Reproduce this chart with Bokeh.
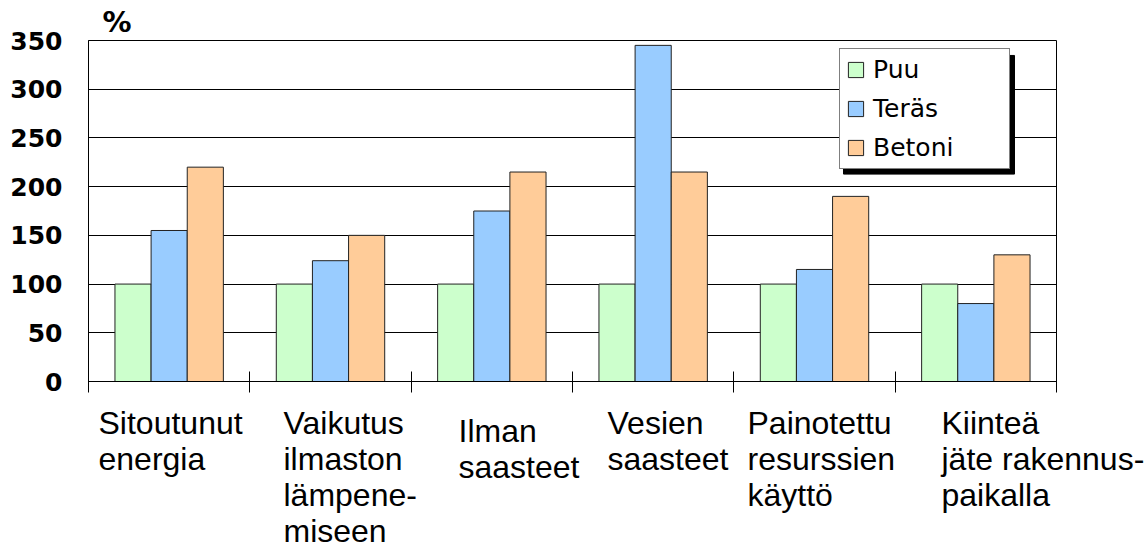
from bokeh.plotting import figure
from bokeh.layouts import column, row
from bokeh.models import (Range1d, FixedTicker, Legend, LegendItem, ColumnDataSource,
                          BoxAnnotation)
from bokeh.core.properties import value
from bokeh.embed import file_html
from bokeh.resources import INLINE

# ---------------- data ----------------
categories = [
    "Sitoutunut\nenergia",
    "Vaikutus\nilmaston\nlämpene-\nmiseen",
    "Ilman\nsaasteet",
    "Vesien\nsaasteet",
    "Painotettu\nresurssien\nkäyttö",
    "Kiinteä\njäte rakennus-\npaikalla",
]
series_names = ["Puu", "Teräs", "Betoni"]
puu = [100, 100, 100, 100, 100, 100]
teras = [155, 124, 175, 345, 115, 80]
betoni = [220, 150, 215, 215, 190, 130]
y_ticks = [0, 50, 100, 150, 200, 250, 300, 350]
y_unit_label = "%"

# ---------------- styles / layout ----------------
colors = ["#CCFFCC", "#99CCFF", "#FFCC99"]
bar_w = 0.224
W = 1147
left_px, right_px, top_px, zero_px = 88, 1056, 39, 381
main_h = 400
n = len(categories)
ymax = 350
px_per_x = (right_px - left_px) / n
px_per_y = (zero_px - top_px) / ymax
label_left_px = [98, 283, 458, 607, 747, 941]   # left edge of each label (page px)
label_tops = [4, 4, 12, 4, 4, 4]               # px below the top of the label strip
legend_box = (839, 1010, 50, 169)               # left, right, top, bottom (page px)
shadow = 4

p = figure(width=W, height=main_h, output_backend="svg", toolbar_location=None,
           x_range=Range1d(0, n), y_range=Range1d(0, ymax),
           min_border_left=left_px, min_border_right=W - right_px, min_border_top=top_px,
           min_border_bottom=main_h - zero_px)
p.background_fill_color = "white"
p.border_fill_color = "white"
p.outline_line_color = "black"
p.outline_line_width = 1

p.title.text = y_unit_label
p.title.align = "left"
p.title.offset = 14
p.title.standoff = 4
p.title.text_font = "DejaVu Sans"
p.title.text_font_style = "bold"
p.title.text_font_size = "29px"
p.title.text_color = "black"

renderers = []
for k, vals in enumerate([puu, teras, betoni]):
    src = ColumnDataSource(dict(x=[i + 0.5 + (k - 1) * bar_w for i in range(n)], top=vals))
    r = p.vbar(x="x", top="top", width=bar_w, bottom=0, source=src,
               fill_color=colors[k], line_color="#222222", line_width=1)
    renderers.append(r)

# axes
p.xaxis.ticker = FixedTicker(ticks=list(range(n + 1)))
p.xaxis.major_label_overrides = {i: "" for i in range(n + 1)}
p.xaxis.major_label_text_font_size = "0px"
p.xaxis.major_label_standoff = 0
p.xaxis.major_tick_in = 10
p.xaxis.major_tick_out = 11
p.xaxis.minor_tick_line_color = None
p.xaxis.axis_line_color = "black"
p.xaxis.major_tick_line_color = "black"

p.yaxis.ticker = FixedTicker(ticks=y_ticks)
p.yaxis.major_tick_in = 0
p.yaxis.major_tick_out = 0
p.yaxis.minor_tick_line_color = None
p.yaxis.axis_line_color = "black"
p.yaxis.major_label_standoff = 26
p.yaxis.major_label_text_font = "DejaVu Sans"
p.yaxis.major_label_text_font_style = "bold"
p.yaxis.major_label_text_font_size = "25px"
p.yaxis.major_label_text_color = "black"

p.xgrid.grid_line_color = None
p.ygrid.ticker = FixedTicker(ticks=y_ticks)
p.ygrid.grid_line_color = "black"
p.ygrid.grid_line_width = 1

# legend shadow (box annotation, converted from page px to data units)
lb_l, lb_r, lb_t, lb_b = legend_box
p.add_layout(BoxAnnotation(
    left=(lb_l + shadow - left_px) / px_per_x, right=(lb_r + shadow - left_px) / px_per_x,
    top=(zero_px - lb_t - shadow) / px_per_y, bottom=(zero_px - lb_b - shadow) / px_per_y,
    fill_color="black", fill_alpha=1, line_color="black", line_alpha=1, level="overlay"))

items = [LegendItem(label=series_names[k], renderers=[renderers[k]]) for k in range(3)]
legend = Legend(items=items, location=(lb_l - left_px, zero_px - lb_b),
                orientation="vertical",
                padding=6, margin=0, spacing=10, label_standoff=8,
                glyph_width=19, glyph_height=19, label_height=20, label_width=130,
                label_text_font="DejaVu Sans", label_text_font_size="25px",
                label_text_color="black",
                border_line_color="black", border_line_width=1,
                background_fill_color="white", background_fill_alpha=1, level="overlay")
p.add_layout(legend, "center")

# ---------------- category label strip (full-width frame, px scale) ----------------
strip_h = 549 - main_h
p2 = figure(width=W, height=strip_h, output_backend="svg", toolbar_location=None,
            x_range=Range1d(0, W), y_range=Range1d(strip_h, 0),
            x_axis_type=None, y_axis_type=None,
            min_border_left=0, min_border_right=0, min_border_top=0, min_border_bottom=0)
p2.outline_line_color = None
p2.grid.grid_line_color = None
p2.background_fill_color = "white"
p2.border_fill_color = "white"
lsrc = ColumnDataSource(dict(x=label_left_px, y=label_tops, text=categories))
p2.text(x="x", y="y", text="text", source=lsrc, text_align="left", text_baseline="top",
        text_font=value("Liberation Sans"), text_font_size="32px",
        text_line_height=1.0, text_color="black")

layout = column(p, row(p2, spacing=0), spacing=0)
open("out.html", "w").write(file_html(layout, INLINE))
